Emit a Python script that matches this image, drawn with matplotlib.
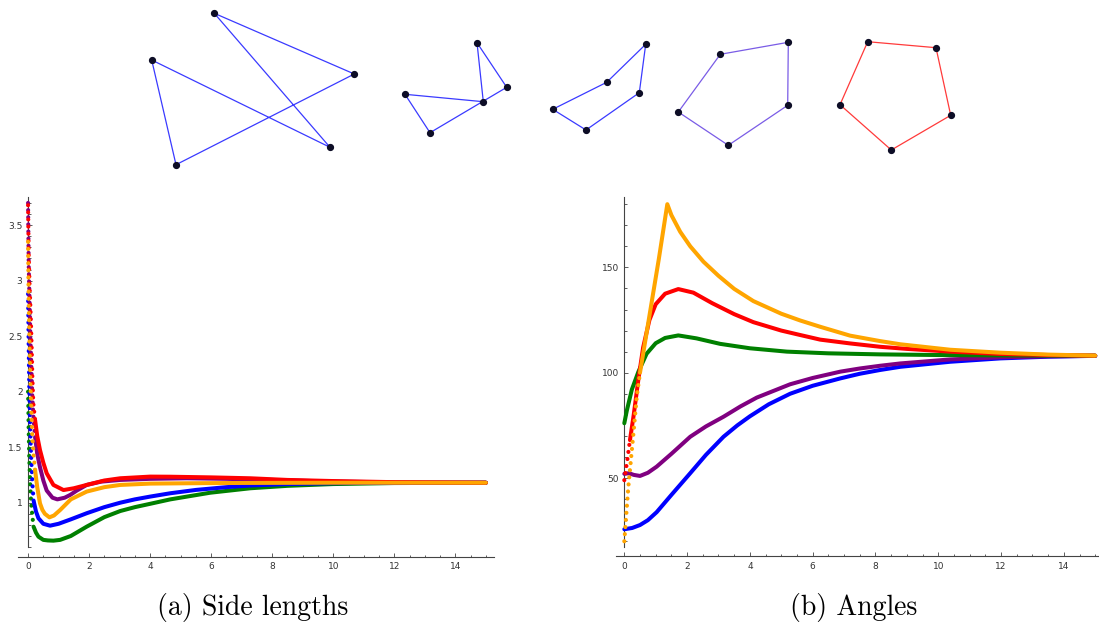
import matplotlib
matplotlib.use("Agg")
import matplotlib.pyplot as plt
from matplotlib.ticker import MultipleLocator, FuncFormatter

# ---- polygon snapshots (vertex positions, image pixel frame) ----
poly_1 = [(151.7, 60), (330, 147.3), (214.3, 13.3), (354.3, 74), (176, 164.7)]
poly_2 = [(405, 94.3), (483.3, 101.7), (477, 42.7), (506.7, 87.3), (430, 132.7)]
poly_3 = [(552.7, 109.3), (606.7, 82.3), (645.7, 44.3), (639.3, 92.7), (586, 130)]
poly_4 = [(720.3, 54.3), (788.3, 42.3), (787.7, 105.3), (728.3, 145.3), (678.3, 112)]
poly_5 = [(867.7, 41.7), (936, 47.7), (950.7, 115.3), (891.3, 150), (840, 104.7)]
polygons = [poly_1, poly_2, poly_3, poly_4, poly_5]
poly_colors = ["#3a3aff", "#3a3aff", "#3a3aff", "#7a5ce6", "#ff3a3a"]

series_colors = {"green": "#008000", "blue": "#0000ff", "purple": "#800080",
                 "red": "#ff0000", "orange": "#ffa500"}
draw_order = ["green", "blue", "purple", "red", "orange"]

# ---- (a) side lengths: steep start (dotted) + smooth part ----
len_steep_x = {
    "red":    [0, 0.02, 0.05, 0.09, 0.12, 0.14, 0.17, 0.23],
    "purple": [0, 0.02, 0.05, 0.08, 0.11, 0.14, 0.18, 0.23],
    "orange": [0, 0.02, 0.05, 0.08, 0.11, 0.14, 0.18, 0.23],
    "blue":   [0, 0.02, 0.04, 0.06, 0.09, 0.12, 0.15, 0.18],
    "green":  [0, 0.02, 0.04, 0.07, 0.10, 0.14, 0.18],
}
len_steep_y = {
    "red":    [3.68, 3.25, 2.95, 2.66, 2.38, 2.14, 1.9, 1.745],
    "purple": [3.70, 3.15, 2.8, 2.45, 2.2, 1.95, 1.75, 1.59],
    "orange": [3.35, 2.8, 2.4, 2.05, 1.8, 1.6, 1.43, 1.295],
    "blue":   [2.88, 2.4, 2.05, 1.75, 1.5, 1.3, 1.14, 1.02],
    "green":  [2.0, 1.65, 1.4, 1.17, 1.0, 0.88, 0.784],
}
len_x = {
    "red":    [0.23, 0.3, 0.39, 0.5, 0.61, 0.83, 1.16, 1.5, 1.92, 2.5, 3.02, 4.0, 4.66, 6.0, 7.28, 8.5, 10, 12, 15],
    "purple": [0.23, 0.3, 0.39, 0.5, 0.61, 0.8, 0.96, 1.2, 1.38, 1.6, 1.92, 2.4, 3.02, 4, 5.2, 6.5, 8, 10, 12, 15],
    "orange": [0.23, 0.3, 0.39, 0.47, 0.55, 0.70, 0.85, 1.05, 1.4, 1.92, 2.5, 3.02, 4, 5.2, 7, 10, 15],
    "blue":   [0.18, 0.26, 0.34, 0.5, 0.72, 1.0, 1.4, 1.92, 2.5, 3.02, 3.5, 4.0, 4.66, 5.5, 6.5, 7.28, 8.5, 10, 12, 15],
    "green":  [0.18, 0.26, 0.34, 0.5, 0.65, 0.83, 1.05, 1.4, 1.92, 2.5, 3.02, 3.5, 4.0, 4.66, 5.97, 7.28, 8.5, 10, 12, 15],
}
len_y = {
    "red":    [1.745, 1.6, 1.475, 1.36, 1.265, 1.16, 1.114, 1.13, 1.16, 1.2, 1.22, 1.235, 1.234, 1.228, 1.22, 1.205, 1.195, 1.185, 1.18],
    "purple": [1.59, 1.44, 1.32, 1.2, 1.11, 1.045, 1.03, 1.045, 1.07, 1.11, 1.16, 1.19, 1.205, 1.215, 1.22, 1.215, 1.205, 1.19, 1.183, 1.18],
    "orange": [1.295, 1.14, 0.995, 0.935, 0.9, 0.868, 0.885, 0.934, 1.03, 1.10, 1.14, 1.16, 1.172, 1.175, 1.178, 1.18, 1.18],
    "blue":   [1.02, 0.92, 0.86, 0.81, 0.793, 0.81, 0.85, 0.905, 0.96, 1.0, 1.03, 1.055, 1.085, 1.115, 1.14, 1.155, 1.168, 1.176, 1.18, 1.18],
    "green":  [0.784, 0.73, 0.694, 0.665, 0.66, 0.658, 0.665, 0.70, 0.784, 0.87, 0.925, 0.96, 0.99, 1.03, 1.09, 1.13, 1.152, 1.168, 1.177, 1.18],
}

# ---- (b) angles ----
ang_steep_x = {
    "orange": [0, 0.13, 0.29, 0.4, 0.5],
    "red":    [0, 0.1, 0.18],
}
ang_steep_y = {
    "orange": [20, 46, 71, 89, 100],
    "red":    [49, 59, 68],
}
ang_x = {
    "orange": [0.5, 0.7, 0.9, 1.1, 1.37, 1.5, 1.78, 2.1, 2.52, 3.0, 3.5, 4.11, 5.0, 5.6, 6.24, 7.19, 8.15, 8.79, 10.38, 11.98, 13.5, 15],
    "red":    [0.18, 0.3, 0.45, 0.6, 0.8, 1.0, 1.3, 1.72, 2.2, 2.8, 3.5, 4.11, 5, 5.6, 6.24, 7.19, 8.15, 9, 10.38, 11.98, 13.5, 15],
    "green":  [0, 0.08, 0.24, 0.45, 0.71, 1.0, 1.3, 1.72, 2.3, 3.05, 4, 5.18, 6.5, 8.15, 10, 12, 15],
    "purple": [0, 0.15, 0.3, 0.5, 0.75, 1.03, 1.5, 2.1, 2.6, 3.16, 3.7, 4.22, 5.28, 6.0, 6.88, 7.5, 8.15, 8.79, 10.38, 11.98, 13.5, 15],
    "blue":   [0, 0.25, 0.5, 0.75, 1.03, 1.5, 2.1, 2.6, 3.16, 3.6, 4.0, 4.6, 5.28, 6.0, 6.88, 7.5, 8.15, 8.79, 10.38, 11.98, 13.5, 15],
}
ang_y = {
    "orange": [100, 118, 136, 154, 180, 174.8, 166.9, 160, 152.7, 146, 139.8, 134, 128, 124.8, 121.8, 117.6, 115, 113.5, 110.9, 109.5, 108.6, 108.1],
    "red":    [68, 80, 97, 112, 125, 132.5, 137.5, 139.7, 138, 133, 127.8, 124, 120, 117.9, 115.7, 113.9, 112.3, 111.3, 110, 108.9, 108.4, 108.1],
    "green":  [76, 82, 92, 100.5, 109, 114, 116.5, 117.7, 116.3, 113.7, 111.6, 110, 109.2, 108.7, 108.4, 108.2, 108.1],
    "purple": [52, 52.3, 51.5, 51, 52.5, 55.4, 61.5, 69.6, 74.5, 79.1, 84, 88.2, 94.5, 97.5, 100.5, 102, 103.3, 104.4, 106.3, 107.3, 107.8, 108.0],
    "blue":   [25.7, 26.3, 27.7, 30, 33.8, 42, 52.3, 61, 69.6, 75, 79.3, 85, 90, 93.8, 97.3, 99.5, 101.3, 102.8, 105.2, 106.8, 107.6, 108.0],
}

W, H = 1099, 623
fig = plt.figure(figsize=(W / 100, H / 100), dpi=100)

# polygon strip
ax_top = fig.add_axes([0, 0, 1, 1])
ax_top.set_xlim(0, W)
ax_top.set_ylim(H, 0)
ax_top.axis("off")
for poly, col in zip(polygons, poly_colors):
    xs = [p[0] for p in poly] + [poly[0][0]]
    ys = [p[1] for p in poly] + [poly[0][1]]
    ax_top.plot(xs, ys, color=col, lw=0.9, zorder=1)
    ax_top.plot(xs[:-1], ys[:-1], ls="none", marker="o", ms=4.2,
                color="#0d0d26", zorder=2)

DOTS = (0, (0.01, 1.7))


def style_axes(ax, xlim, ylim, spine_bounds, ymajor, yminor, fmt):
    ax.set_xlim(*xlim)
    ax.set_ylim(*ylim)
    for s in ["top", "right"]:
        ax.spines[s].set_visible(False)
    ax.spines["left"].set_position(("data", 0))
    ax.spines["left"].set_bounds(*spine_bounds)
    for s in ["left", "bottom"]:
        ax.spines[s].set_color("#444444")
        ax.spines[s].set_linewidth(0.8)
    ax.xaxis.set_major_locator(MultipleLocator(2))
    ax.xaxis.set_minor_locator(MultipleLocator(0.5))
    ax.yaxis.set_major_locator(MultipleLocator(ymajor))
    ax.yaxis.set_minor_locator(MultipleLocator(yminor))
    ax.yaxis.set_major_formatter(FuncFormatter(fmt))
    ax.tick_params(which="both", direction="in", colors="#444444",
                   labelcolor="#333333", labelsize=6.5, width=0.6)
    ax.tick_params(which="major", length=3, pad=4)
    ax.tick_params(which="minor", length=1.8)
    ax.patch.set_alpha(0)


ax1 = fig.add_axes([18 / W, 1 - 556.7 / H, 475.5 / W, 359.7 / H])
for name in draw_order:
    c = series_colors[name]
    ax1.plot(len_steep_x[name], len_steep_y[name], color=c, lw=3.0, ls=DOTS,
             dash_capstyle="round", zorder=3)
    ax1.plot(len_x[name], len_y[name], color=c, lw=2.9,
             solid_capstyle="round", solid_joinstyle="round", zorder=3)
style_axes(ax1, (-0.33, 15.25), (0.5135, 3.754), (0.604, 3.754), 0.5, 0.1,
           lambda v, p: "%g" % v)

ax2 = fig.add_axes([615.7 / W, 1 - 556 / H, 483.3 / W, 359 / H])
for name in ["blue", "purple", "green", "red", "orange"]:
    c = series_colors[name]
    if name in ang_steep_x:
        ax2.plot(ang_steep_x[name], ang_steep_y[name], color=c, lw=3.0, ls=DOTS,
                 dash_capstyle="round", zorder=3)
    ax2.plot(ang_x[name], ang_y[name], color=c, lw=2.9,
             solid_capstyle="round", solid_joinstyle="round", zorder=3)
style_axes(ax2, (-0.274, 15.12), (13.0, 183.4), (17.3, 183.4), 50, 10,
           lambda v, p: "%d" % v)

fig.text(252.5 / W, 1 - 607 / H, "(a) Side lengths", family="cmr10",
         fontsize=20, ha="center", va="center")
fig.text(854 / W, 1 - 607 / H, "(b) Angles", family="cmr10",
         fontsize=20, ha="center", va="center")

fig.savefig("out.png", dpi=100)
